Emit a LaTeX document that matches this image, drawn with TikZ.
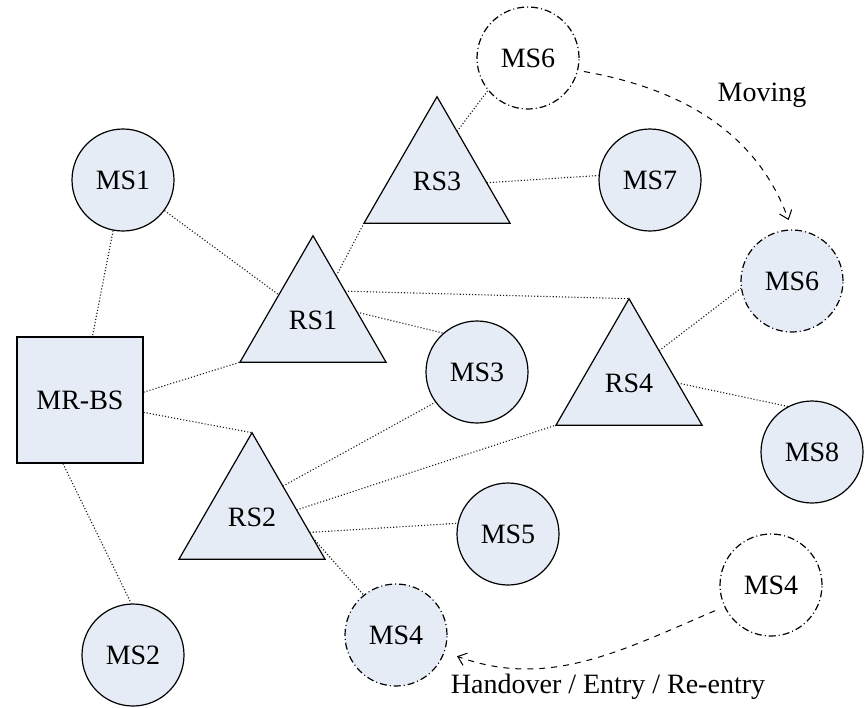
\documentclass[tikz,border=0pt]{standalone}
\usepackage{fontspec}
\setmainfont{Liberation Serif}
\usetikzlibrary{shapes.geometric,arrows.meta}
\definecolor{stationfill}{RGB}{230,236,246}

\begin{document}
\begin{tikzpicture}[x=0.5pt,y=-0.5pt,
		every node/.style={font=\fontsize{14}{16}\selectfont},
		ms/.style={circle,draw,line width=0.6pt,fill=stationfill,minimum size=51pt,inner sep=0pt},
		msnew/.style={ms,dash pattern=on 3.5pt off 1.5pt on 0.5pt off 1.5pt},
		msold/.style={msnew,fill=white},
		rs/.style={regular polygon,regular polygon sides=3,draw,line width=0.6pt,fill=stationfill,minimum size=84.3pt,inner sep=0pt,outer sep=0pt},
		bs/.style={rectangle,draw,line width=0.6pt,fill=stationfill,minimum size=63pt,inner sep=0pt},
		link/.style={densely dotted,line width=0.55pt,black!90},
		move/.style={dashed,line width=0.5pt,->,>={Straight Barb[length=4pt,width=6.5pt]}}]
				\useasboundingbox (0,0) rectangle (865,707);
				
				% base station and relays
				\node[bs] (mrbs) at (80,400) {MR-BS};
				\node[rs] (rs1) at (313,320) {RS1};
				\node[rs] (rs2) at (252,517) {RS2};
				\node[rs] (rs3) at (437,181) {RS3};
				\node[rs] (rs4) at (629,383) {RS4};
				
				% mobile stations
				\node[ms] (ms1) at (123,180) {MS1};
				\node[ms] (ms2) at (133,655) {MS2};
				\node[ms] (ms3) at (477,372) {MS3};
				\node[ms] (ms5) at (508,534) {MS5};
				\node[ms] (ms7) at (650,180) {MS7};
				\node[ms] (ms8) at (812,452) {MS8};
				\node[msold] (ms6old) at (528,58) {MS6};
				\node[msnew] (ms6new) at (792,281) {MS6};
				\node[msold] (ms4old) at (771,585) {MS4};
				\node[msnew] (ms4new) at (396,635) {MS4};
				
				\draw[link] (ms1) -- (mrbs);
				\draw[link] (ms1) -- (rs1);
				\draw[link] (mrbs.7) -- (rs1.corner 2);
				\draw[link] (mrbs.-11) -- (rs2.corner 1);
				\draw[link] (mrbs.-105) -- (ms2.92);
				\draw[link] (rs1) -- (rs3.corner 2);
				\draw[link] (rs1.42) -- (rs4.corner 1);
				\draw[link] (rs1.10) -- (ms3.131);
				\draw[link] (rs3.68) -- (ms6old.-141);
				\draw[link] (rs3.-2) -- (ms7.175);
				\draw[link] (rs2.45) -- (ms3.-144);
				\draw[link] (rs2.9) -- (rs4.corner 2);
				\draw[link] (rs2.-15) -- (ms5.168);
				\draw[link] (rs2.-19) -- (ms4new.129);
				\draw[link] (rs4.47) -- (ms6new.-172);
				\draw[link] (rs4.0) -- (ms8.118);
				
				% movements
				\draw[move,shorten <=3pt,shorten >=5pt] (ms6old.-14) to[out=-10,in=110] (ms6new.north);
				\node (lblmove) at (762,95) {Moving};
				\draw[move,shorten <=5pt,shorten >=6.5pt] (ms4old.205) to[out=203,in=-20] (ms4new.-19);
				\node (lblhand) at (608,687) {Handover / Entry / Re-entry};
			\end{tikzpicture}
\end{document}
